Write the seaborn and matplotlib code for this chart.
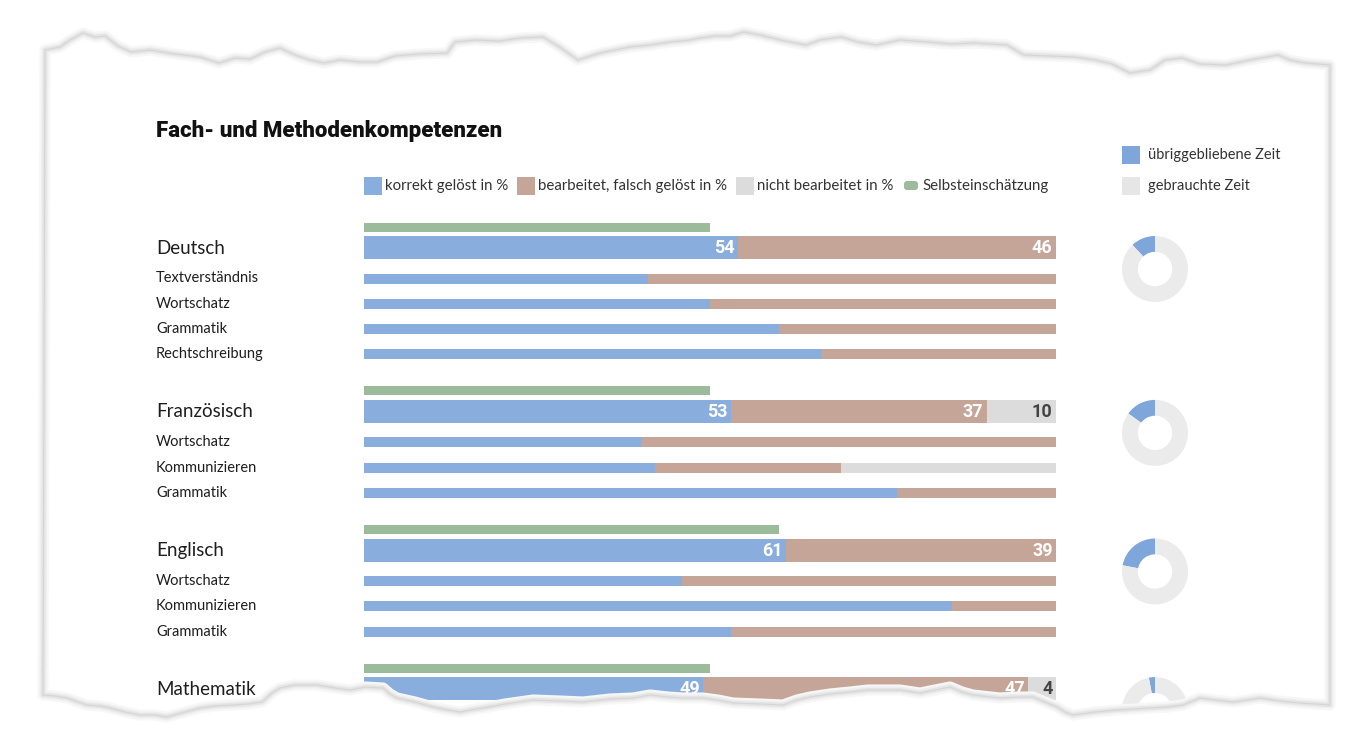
import numpy as np
import pandas as pd
import matplotlib
matplotlib.use("Agg")
import matplotlib.pyplot as plt
from matplotlib.patches import Polygon, Rectangle, FancyBboxPatch
import seaborn as sns

# ---------------- data ----------------
subjects = ["Deutsch", "Französisch", "Englisch", "Mathematik"]
main_correct = [54, 53, 61, 49]
main_wrong = [46, 37, 39, 47]
main_none = [0, 10, 0, 4]
self_estimate = [50, 50, 60, 50]
time_left = [12, 15, 22, 3]

de_subs = ["Textverständnis", "Wortschatz", "Grammatik", "Rechtschreibung"]
de_correct = [41, 50, 60, 66]
de_wrong = [59, 50, 40, 34]
de_none = [0, 0, 0, 0]

fr_subs = ["Wortschatz", "Kommunizieren", "Grammatik"]
fr_correct = [40, 42, 77]
fr_wrong = [60, 27, 23]
fr_none = [0, 31, 0]

en_subs = ["Wortschatz", "Kommunizieren", "Grammatik"]
en_correct = [46, 85, 53]
en_wrong = [54, 15, 47]
en_none = [0, 0, 0]

legend_labels = ["korrekt gelöst in %", "bearbeitet, falsch gelöst in %",
                 "nicht bearbeitet in %", "Selbsteinschätzung"]
time_labels = ["übriggebliebene Zeit", "gebrauchte Zeit"]
title = "Fach- und Methodenkompetenzen"

sub_tables = [
    (de_subs, de_correct, de_wrong, de_none),
    (fr_subs, fr_correct, fr_wrong, fr_none),
    (en_subs, en_correct, en_wrong, en_none),
    ([], [], [], []),
]

# ---------------- style ----------------
sns.set_theme(style="white")
plt.rcParams["font.family"] = ["Lato", "DejaVu Sans"]

C_BLUE = "#89aede"
C_BROWN = "#c4a597"
C_GRAY = "#dcdcdc"
C_GREEN = "#9bbb9b"
C_DBLUE = "#7ea6da"
C_DGRAY = "#ebebeb"
C_TEXT = "#1e1e1e"

W, H = 1366, 739
fig = plt.figure(figsize=(W / 100, H / 100), dpi=100)
fig.patch.set_facecolor("white")

# background axes in pixel coordinates (labels, legends)
bg = fig.add_axes([0, 0, 1, 1], zorder=0)
bg.set_xlim(0, W)
bg.set_ylim(H, 0)
bg.axis("off")

# ---------------- bar axes ----------------
X0, X1 = 364, 1056
ax = fig.add_axes([X0 / W, 0, (X1 - X0) / W, 1], zorder=2)
ax.set_xlim(0, 100)
ax.set_ylim(H, 0)
ax.axis("off")
ax.patch.set_alpha(0)

# layout (row positions in pixels)
main_y = []
sub_y = []
y = 247.5
for i, s in enumerate(subjects):
    main_y.append(y)
    ys = [y + 31 + 25.3 * k for k in range(len(sub_tables[i][0]))]
    sub_y.append(ys)
    y = (ys[-1] if ys else y) + 57

MAIN_H, SUB_H, GREEN_H = 23, 10, 9


def stacked(yp, c, w, n, h):
    ax.barh(yp, c, height=h, left=0, color=C_BLUE, linewidth=0)
    ax.barh(yp, w, height=h, left=c, color=C_BROWN, linewidth=0)
    ax.barh(yp, n, height=h, left=c + w, color=C_GRAY, linewidth=0)


for i, s in enumerate(subjects):
    ym = main_y[i]
    ax.barh(ym - 20.5, self_estimate[i], height=GREEN_H, color=C_GREEN, linewidth=0)
    stacked(ym, main_correct[i], main_wrong[i], main_none[i], MAIN_H)
    segs = [(main_correct[i], 0, "white"),
            (main_wrong[i], main_correct[i], "white"),
            (main_none[i], main_correct[i] + main_wrong[i], "#444444")]
    for val, left, col in segs:
        if val > 0:
            ax.text(left + val - 0.5, ym + 0.5, f"{val}", ha="right", va="center",
                    color=col, fontsize=13, fontweight="bold",
                    family=["Roboto", "DejaVu Sans"])
    bg.text(156, ym + 0.5, s, ha="left", va="center", fontsize=13.5, color=C_TEXT)
    names, c, w, n = sub_tables[i]
    for k, name in enumerate(names):
        yk = sub_y[i][k]
        stacked(yk, c[k], w[k], n[k], SUB_H)
        bg.text(156, yk, name, ha="left", va="center", fontsize=10.5, color=C_TEXT)

# ---------------- donuts ----------------
for i, s in enumerate(subjects):
    cx, cy, r = 1155, main_y[i] + 21.5, 33
    dax = fig.add_axes([(cx - r) / W, 1 - (cy + r) / H, 2 * r / W, 2 * r / H], zorder=2)
    dax.pie([time_left[i], 100 - time_left[i]], colors=[C_DBLUE, C_DGRAY],
            startangle=90, counterclock=True, radius=1,
            wedgeprops=dict(width=0.48, linewidth=0))
    dax.set_xlim(-1, 1)
    dax.set_ylim(-1, 1)
    dax.set_aspect("equal")
    dax.axis("off")

# ---------------- title & legends ----------------
bg.text(156, 131, title, ha="left", va="center", fontsize=16, fontweight="heavy",
        color="#111111", family=["Roboto", "DejaVu Sans"])

leg_x = [364, 517, 736, 902]
leg_cols = [C_BLUE, C_BROWN, C_GRAY, C_GREEN]
for lx, col, lab in zip(leg_x, leg_cols, legend_labels):
    if col == C_GREEN:
        bg.add_patch(FancyBboxPatch((lx + 2, 181), 14, 9,
                                    boxstyle="round,pad=0,rounding_size=3",
                                    facecolor=col, edgecolor="none"))
        tx = lx + 20
    else:
        bg.add_patch(Rectangle((lx, 177), 18, 18, facecolor=col, edgecolor="none"))
        tx = lx + 21
    bg.text(tx, 186, lab, ha="left", va="center", fontsize=10.8, color="#333333")

for ly, col, lab in zip([146, 177], [C_DBLUE, "#e6e6e6"], time_labels):
    bg.add_patch(Rectangle((1122, ly), 18, 18, facecolor=col, edgecolor="none"))
    bg.text(1148, ly + 9, lab, ha="left", va="center", fontsize=10.5, color="#333333")

# ---------------- torn paper overlay ----------------
ov = fig.add_axes([0, 0, 1, 1], zorder=10)
ov.set_xlim(0, W)
ov.set_ylim(H, 0)
ov.axis("off")
ov.patch.set_alpha(0)

top_edge = [(45, 50), (60, 47), (70, 40), (83, 33), (95, 37), (105, 36), (118, 46),
            (131, 52), (150, 50), (175, 54), (200, 57), (219, 63), (235, 58), (250, 59),
            (265, 52), (280, 48), (295, 55), (310, 60), (324, 63), (340, 60), (360, 62),
            (377, 62), (395, 56), (420, 54), (447, 53), (455, 42), (475, 40), (500, 41),
            (520, 38), (543, 37), (558, 46), (578, 60), (600, 53), (630, 47), (650, 45),
            (670, 42), (690, 40), (700, 38), (715, 36), (730, 36), (744, 32), (760, 35),
            (785, 41), (806, 45), (820, 40), (841, 37), (858, 42), (876, 45), (900, 40),
            (928, 42), (950, 44), (975, 43), (1007, 45), (1024, 55), (1050, 56),
            (1075, 57), (1095, 60), (1112, 64), (1130, 73), (1150, 70), (1165, 60),
            (1182, 58), (1200, 64), (1226, 65), (1250, 60), (1278, 55), (1290, 60),
            (1305, 63), (1330, 65)]
bottom_edge = [(43, 695), (55, 696), (67, 698), (78, 702), (87, 705), (100, 706),
               (110, 708), (125, 712), (140, 715), (155, 715), (167, 717), (185, 712),
               (200, 708), (215, 706), (233, 705), (248, 704), (262, 702), (272, 693),
               (280, 688), (295, 685), (317, 685), (335, 688), (350, 690), (365, 687),
               (383, 688), (390, 694), (397, 698), (415, 702), (433, 707), (448, 710),
               (460, 712), (470, 710), (483, 708), (505, 704), (533, 700), (560, 701),
               (583, 702), (610, 699), (633, 698), (650, 695), (668, 697), (683, 698),
               (703, 698), (718, 700), (733, 703), (760, 704), (783, 705), (797, 700),
               (810, 697), (830, 694), (850, 692), (868, 690), (883, 690), (900, 690),
               (920, 693), (935, 690), (950, 687), (962, 692), (973, 695), (1000, 698),
               (1018, 697), (1033, 697), (1045, 702), (1057, 707), (1065, 712),
               (1073, 715), (1095, 712), (1117, 710), (1135, 709), (1150, 708),
               (1168, 707), (1183, 705), (1200, 698), (1215, 700), (1233, 702),
               (1247, 700), (1260, 698), (1280, 701), (1300, 703), (1315, 704),
               (1330, 705)]

# white masks outside the paper
ov.add_patch(Polygon([(0, 0), (W, 0), (W, top_edge[-1][1])] + top_edge[::-1] +
                     [(0, top_edge[0][1])], closed=True, facecolor="white",
                     edgecolor="none"))
ov.add_patch(Polygon([(0, bottom_edge[0][1])] + bottom_edge + [(W, bottom_edge[-1][1]),
                     (W, H), (0, H)], closed=True, facecolor="white", edgecolor="none"))

poly_pts = top_edge + bottom_edge[::-1]
for lw, col in [(8, "#f7f7f7"), (5, "#efefef"), (3, "#e4e4e4")]:
    ov.add_patch(Polygon(poly_pts, closed=True, facecolor="none", edgecolor=col,
                         linewidth=lw, joinstyle="round"))
ov.add_patch(Polygon(poly_pts, closed=True, facecolor="none", edgecolor="#d6d6d6",
                     linewidth=0.8, joinstyle="round"))

fig.savefig("out.png", dpi=100, facecolor="white")
